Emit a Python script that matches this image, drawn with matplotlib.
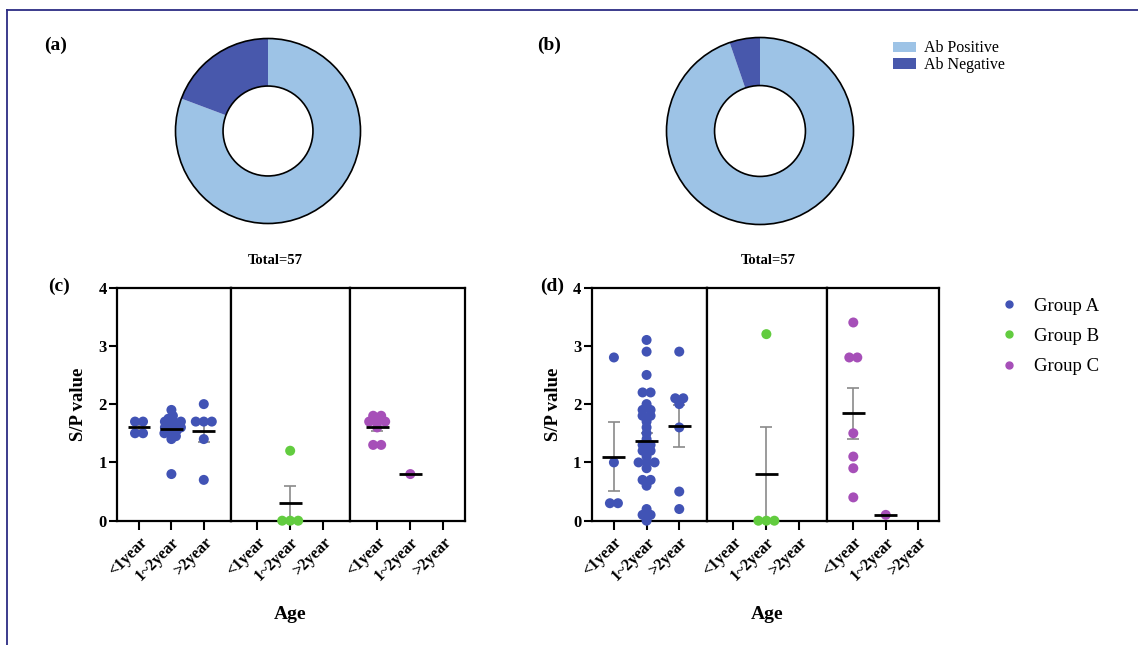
import numpy as np
import matplotlib
matplotlib.use("Agg")
import matplotlib.pyplot as plt
from matplotlib.patches import Circle, Patch
from matplotlib.lines import Line2D

plt.rcParams['font.family'] = ['Liberation Serif', 'DejaVu Serif']

# ---- data ----
pie_labels = ["Ab Positive", "Ab Negative"]
pie_a = [46, 11]
pie_b = [54, 3]
pie_total = "Total=57"

age_labels = ["<1year", "1~2year", ">2year"]
group_names = ["Group A", "Group B", "Group C"]

# panel (c): one list per age class, per group
c_group_a = [[1.7, 1.7, 1.5, 1.5],
             [1.9, 1.8, 1.75, 1.7, 1.7, 1.7, 1.65, 1.65, 1.6, 1.6, 1.6,
              1.55, 1.55, 1.5, 1.5, 1.45, 1.4, 0.8],
             [2.0, 1.7, 1.7, 1.7, 1.4, 0.7]]
c_group_b = [[], [1.2, 0.0, 0.0, 0.0], []]
c_group_c = [[1.8, 1.8, 1.7, 1.7, 1.7, 1.6, 1.3, 1.3], [0.8], []]

# panel (d)
d_group_a = [[2.8, 1.0, 0.3, 0.3],
             [3.1, 2.9, 2.5, 2.2, 2.2, 2.0, 1.9, 1.9, 1.8, 1.8, 1.7, 1.6,
              1.5, 1.4, 1.3, 1.3, 1.2, 1.2, 1.1, 1.0, 1.0, 1.0, 0.9, 0.7,
              0.7, 0.6, 0.2, 0.1, 0.1, 0.0],
             [2.9, 2.1, 2.1, 2.0, 1.6, 0.5, 0.2]]
d_group_b = [[], [3.2, 0.0, 0.0, 0.0], []]
d_group_c = [[3.4, 2.8, 2.8, 1.5, 1.1, 0.9, 0.4], [0.1], []]

pie_colors = ['#9dc3e6', '#4858ac']
group_colors = ['#4153b5', '#62cc3f', '#a64fb8']
err_color = '#8a8a8a'

W, H = 1138, 645
fig = plt.figure(figsize=(W / 100, H / 100), dpi=100)


def px_axes(l, t, r, b):
    return fig.add_axes([l / W, 1 - b / H, (r - l) / W, (b - t) / H])


def swarm_offsets(ax, x0, vals, dup_gap=8.0, dmin=4.5, step=1.5):
    # simple beeswarm in pixel space; equal values spread symmetrically
    vals = np.asarray(vals, float)
    offs = np.zeros(len(vals))
    px0 = ax.transData.transform((x0, 0))[0]
    px_per_x = ax.transData.transform((x0 + 1, 0))[0] - px0
    placed = []
    ks = [0]
    for k in range(1, 30):
        ks += [k, -k]
    for v in np.unique(vals):
        idx = np.where(vals == v)[0]
        n = len(idx)
        y = ax.transData.transform((x0, v))[1]
        base = (np.arange(n) - (n - 1) / 2) * dup_gap
        for k in ks:
            pos = base + k * step
            ok = all(np.hypot(p - qx, y - qy) >= dmin
                     for p in pos for (qx, qy) in placed)
            if ok:
                break
        placed.extend((p, y) for p in pos)
        offs[idx] = pos / px_per_x
    return offs


def draw_donut(ax, values):
    ax.pie(values, colors=pie_colors, startangle=90, counterclock=False,
           radius=1, wedgeprops=dict(width=0.514, linewidth=0))
    ax.add_patch(Circle((0, 0), 1.0, fill=False, lw=1.2, ec='black', clip_on=False))
    ax.add_patch(Circle((0, 0), 0.486, fill=False, lw=1.2, ec='black', clip_on=False))
    ax.set_xlim(-1, 1)
    ax.set_ylim(-1, 1)
    ax.set_aspect('equal')
    ax.axis('off')


draw_donut(px_axes(175.5, 38.5, 360.5, 223.5), pie_a)
draw_donut(px_axes(666.5, 37.5, 853.5, 224.5), pie_b)


def draw_scatter_panel(edges, group_data):
    xlims = [(-0.68, 2.84), (-0.81, 2.83), (-0.82, 2.65)]
    axes = []
    for g in range(3):
        ax = px_axes(edges[g], 287.5, edges[g + 1], 520.7)
        ax.set_xlim(*xlims[g])
        ax.set_ylim(0, 4)
        for sp in ax.spines.values():
            sp.set_linewidth(1.6)
        ax.set_xticks(range(3))
        ax.set_xticklabels(age_labels, rotation=45, ha='right',
                           rotation_mode='anchor', fontsize=11.5, fontweight='bold')
        ax.tick_params(axis='x', direction='out', length=6.5, width=1.5, pad=3)
        if g == 0:
            ax.set_yticks(range(5))
            ax.set_yticklabels([str(t) for t in range(5)], fontsize=12,
                               fontweight='bold')
            ax.tick_params(axis='y', direction='out', length=5.5, width=1.5, pad=2)
            ax.set_ylabel("S/P value", fontsize=13.5, fontweight='bold', labelpad=8)
        else:
            ax.set_yticks([])
        if g == 1:
            ax.set_xlabel("Age", fontsize=14, fontweight='bold', labelpad=16)

        for a, vals in enumerate(group_data[g]):
            if len(vals) == 0:
                continue
            vals = np.asarray(vals, float)
            xs = a + swarm_offsets(ax, a, vals)
            ax.scatter(xs, vals, s=52, color=group_colors[g], edgecolors='none',
                       zorder=3, clip_on=False)
            mean = vals.mean()
            if len(vals) > 1:
                sem = vals.std(ddof=1) / np.sqrt(len(vals))
                ax.errorbar(a, mean, yerr=sem, color=err_color, lw=1.2,
                            capsize=4.5, capthick=1.2, zorder=2.5)
            ax.hlines(mean, a - 0.35, a + 0.35, color='black', lw=2, zorder=4)
        axes.append(ax)
    return axes


draw_scatter_panel([117, 231, 350, 465], [c_group_a, c_group_b, c_group_c])
draw_scatter_panel([591.7, 706.7, 826.7, 939.3], [d_group_a, d_group_b, d_group_c])

# panel letters and totals
for lbl, x, y in [("(a)", 44, 45), ("(b)", 537, 45), ("(c)", 48, 286), ("(d)", 540, 286)]:
    fig.text(x / W, 1 - y / H, lbl, fontsize=14, fontweight='bold', va='center')
for x in [275, 768]:
    fig.text(x / W, 1 - 261 / H, pie_total, fontsize=10.5, fontweight='bold',
             ha='center', va='center')

# legends
pie_handles = [Patch(facecolor=c, edgecolor='none') for c in pie_colors]
fig.legend(pie_handles, pie_labels, loc='upper left',
           bbox_to_anchor=(887 / W, 1 - 34 / H), frameon=False, fontsize=11.5,
           handlelength=1.4, handleheight=0.6, handletextpad=0.5,
           labelspacing=0.05, borderaxespad=0)

grp_handles = [Line2D([], [], marker='o', ls='none', color=c, markersize=5)
               for c in group_colors]
fig.legend(grp_handles, group_names, loc='upper left',
           bbox_to_anchor=(992 / W, 1 - 290 / H), frameon=False, fontsize=13.5,
           handlelength=1.0, handletextpad=0.85, labelspacing=0.7, borderaxespad=0)

# thin frame lines at top and left of the image
fig.add_artist(Line2D([7 / W, 1], [1 - 9.5 / H] * 2, transform=fig.transFigure,
                      color='#2c2c84', lw=1.3))
fig.add_artist(Line2D([7 / W] * 2, [0, 1 - 9.5 / H], transform=fig.transFigure,
                      color='#2c2c84', lw=1.3))

fig.savefig("out.png", dpi=100)
